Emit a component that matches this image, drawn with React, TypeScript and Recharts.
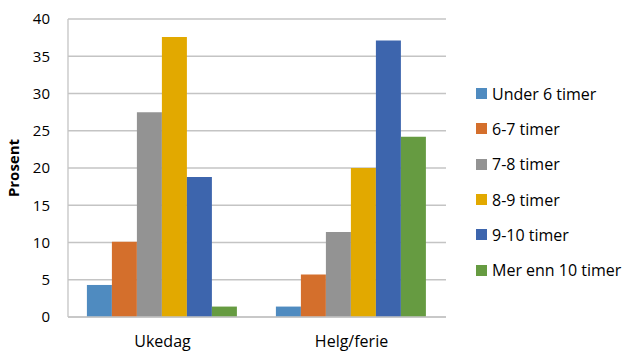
import { BarChart, Bar, XAxis, YAxis, CartesianGrid } from 'recharts'

const CATEGORIES = ['Ukedag', 'Helg/ferie']
const SERIES_NAMES = ['Under 6 timer', '6-7 timer', '7-8 timer', '8-9 timer', '9-10 timer', 'Mer enn 10 timer']
const UNDER_6 = [4.3, 1.4]
const T6_7 = [10.1, 5.7]
const T7_8 = [27.5, 11.4]
const T8_9 = [37.6, 20.0]
const T9_10 = [18.8, 37.1]
const OVER_10 = [1.4, 24.2]
const Y_TICKS = [0, 5, 10, 15, 20, 25, 30, 35, 40]

const COLORS = ['#4F8BC0', '#D46F2C', '#939393', '#E2A900', '#3D65AD', '#669B41']
const KEYS = ['s0', 's1', 's2', 's3', 's4', 's5']
const VALUES = [UNDER_6, T6_7, T7_8, T8_9, T9_10, OVER_10]

const data = CATEGORIES.map((name, i) => {
  const row: Record<string, string | number> = { name }
  KEYS.forEach((k, j) => { row[k] = VALUES[j][i] })
  return row
})

const FONT = '"Open Sans", sans-serif'
const GRID = '#c4c4c4'

function SideLegend() {
  return (
    <div style={{ position: 'absolute', left: 476, top: 76, fontFamily: FONT, fontSize: 16, color: '#000' }}>
      {SERIES_NAMES.map((n, i) => (
        <div key={n} style={{ display: 'flex', alignItems: 'center', height: 35.3, whiteSpace: 'nowrap' }}>
          <span style={{ width: 11, height: 11, backgroundColor: COLORS[i], marginRight: 5, display: 'inline-block' }} />
          <span>{n}</span>
        </div>
      ))}
    </div>
  )
}

export default function App() {
  return (
    <div style={{ position: 'absolute', left: 0, top: 0, width: 633, height: 351, background: '#fff' }}>
      <BarChart
        width={633}
        height={351}
        data={data}
        margin={{ top: 19, right: 187, bottom: 0, left: 28 }}
        barCategoryGap="10%"
        barGap={0}
      >
        <CartesianGrid vertical={false} stroke={GRID} strokeWidth={1.3} />
        <XAxis
          dataKey="name"
          height={34}
          axisLine={{ stroke: GRID, strokeWidth: 1.3 }}
          tickLine={false}
          tickSize={6}
          tickMargin={13}
          tick={{ fill: '#000', fontSize: 16, fontFamily: FONT }}
        />
        <YAxis
          width={40}
          domain={[0, 40]}
          ticks={Y_TICKS}
          interval={0}
          axisLine={{ stroke: GRID, strokeWidth: 1.3 }}
          tickLine={false}
          tickSize={6}
          tickMargin={12}
          tick={{ fill: '#000', fontSize: 15, fontFamily: FONT }}
          label={{
            value: 'Prosent',
            angle: -90,
            position: 'insideLeft',
            offset: 0,
            dx: -14,
            style: { fontFamily: FONT, fontSize: 15, fontWeight: 700, fill: '#000', textAnchor: 'middle' },
          }}
        />
        {KEYS.map((k, i) => (
          <Bar key={k} dataKey={k} name={SERIES_NAMES[i]} fill={COLORS[i]} isAnimationActive={false} />
        ))}
      </BarChart>
      <SideLegend />
    </div>
  )
}
